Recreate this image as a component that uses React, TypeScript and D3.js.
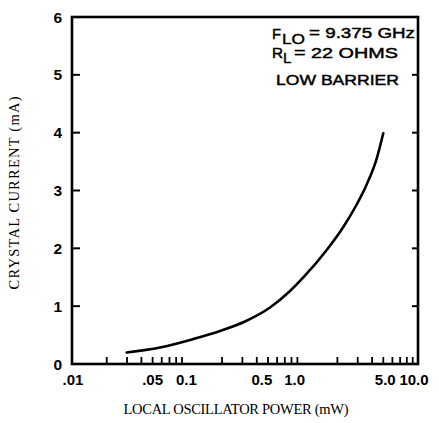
import React from "react";
import * as d3 from "d3";

const powerMW = [0.0298, 0.0579, 0.1127, 0.192, 0.316, 0.521, 0.777, 1.013, 1.616, 2.251, 2.941, 3.591, 4.385, 5.0];
const currentMA = [0.199, 0.285, 0.432, 0.571, 0.735, 0.977, 1.262, 1.496, 1.971, 2.369, 2.758, 3.104, 3.553, 3.99];

const yTicks = [0, 1, 2, 3, 4, 5, 6];
const xTickValues = [0.01, 0.05, 0.1, 0.5, 1, 5, 10];
const xTickLabels = [".01", ".05", "0.1", "0.5", "1.0", "5.0", "10.0"];
const xLabelNudge = [1, 0, -1, -6, -8, 2, -4];

const W = 439;
const H = 423;
const L = 72, R = 418, T = 17, B = 364;

export default function App() {
  const x = d3.scaleLog().domain([0.01, 10]).range([L, R]);
  const y = d3.scaleLinear().domain([0, 6]).range([B, T]);

  const minor: number[] = [];
  for (const dec of [0.01, 0.1, 1]) {
    for (let k = 2; k <= 9; k++) minor.push(dec * k);
  }

  const pts: [number, number][] = powerMW.map((p, i) => [x(p), y(currentMA[i])]);
  const line = d3.line().curve(d3.curveMonotoneX)(pts) || "";

  const sans = "'Liberation Sans', Arial, Helvetica, sans-serif";
  const serif = "'Liberation Serif', 'Times New Roman', serif";

  return (
    <svg width={W} height={H} style={{ position: "absolute", left: 0, top: 0, background: "#fff" }}>
      <rect x={0} y={0} width={W} height={H} fill="#fff" />
      {/* frame */}
      <rect x={L} y={T} width={R - L} height={B - T} fill="none" stroke="#000" strokeWidth={2.6} />
      {/* y ticks left and right */}
      {yTicks.map((v) => (
        <g key={"yt" + v}>
          {v > 0 && v < 6 && <line x1={L} x2={L + 8} y1={y(v)} y2={y(v)} stroke="#000" strokeWidth={2} />}
          {v > 0 && v < 6 && <line x1={R} x2={R - 6} y1={y(v)} y2={y(v)} stroke="#000" strokeWidth={2} />}
          <text x={62} y={y(v)} dy="0.36em" textAnchor="end" fontFamily={sans} fontWeight="bold" fontSize={15.5}>
            {v}
          </text>
        </g>
      ))}
      {/* x minor ticks */}
      {minor.map((v, i) => (
        <line key={"xm" + i} x1={x(v)} x2={x(v)} y1={B} y2={B - 7} stroke="#000" strokeWidth={1.8} />
      ))}
      {xTickValues.map((v, i) => (
        <text key={"xl" + i} x={x(v) + xLabelNudge[i]} y={385} textAnchor="middle" fontFamily={sans} fontWeight="bold" fontSize={15}>
          {xTickLabels[i]}
        </text>
      ))}
      {/* curve */}
      <path d={line} fill="none" stroke="#000" strokeWidth={2.6} strokeLinecap="round" />
      {/* axis titles */}
      <text x={236} y={414} textAnchor="middle" fontFamily={serif} fontSize={14.5} textLength={225} lengthAdjust="spacing">
        LOCAL OSCILLATOR POWER (mW)
      </text>
      <text
        transform="translate(19,193) rotate(-90)"
        textAnchor="middle"
        fontFamily={serif}
        fontSize={14.5}
        textLength={193}
        lengthAdjust="spacing"
      >
        CRYSTAL CURRENT (mA)
      </text>
      {/* annotation */}
      <g fontFamily={sans} fontSize={15} stroke="#000" strokeWidth={0.45}>
        <text x={272} y={38.5} textLength={9} lengthAdjust="spacingAndGlyphs">F</text>
        <text x={282} y={44} textLength={23} lengthAdjust="spacingAndGlyphs">LO</text>
        <text x={309} y={38} textLength={106} lengthAdjust="spacingAndGlyphs">= 9.375 GHz</text>
        <text x={272} y={58} textLength={11} lengthAdjust="spacingAndGlyphs">R</text>
        <text x={283} y={63}>L</text>
        <text x={294} y={58} textLength={104} lengthAdjust="spacingAndGlyphs">= 22 OHMS</text>
        <text x={276} y={84.5} fontSize={14.5} textLength={123} lengthAdjust="spacingAndGlyphs">LOW BARRIER</text>
      </g>
    </svg>
  );
}
